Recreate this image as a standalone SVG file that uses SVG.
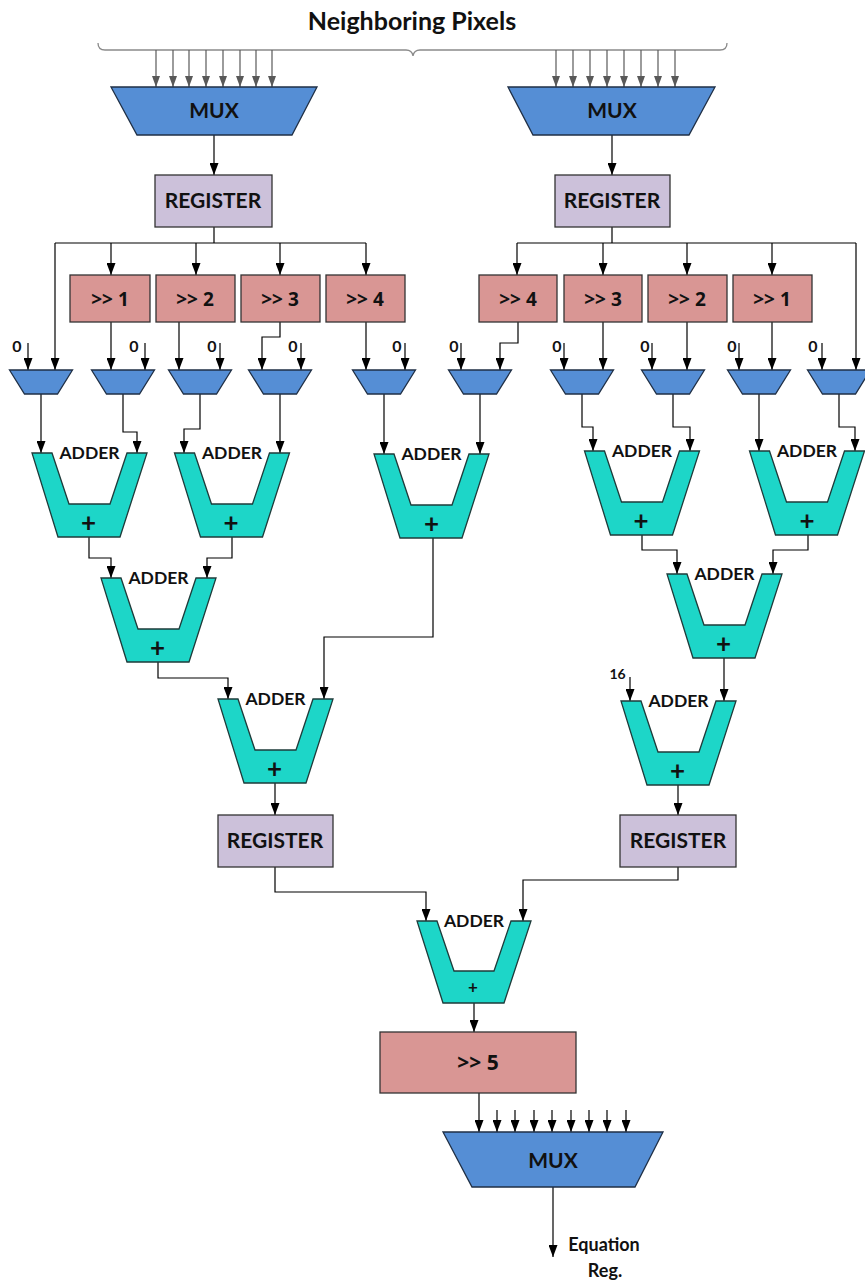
<svg xmlns="http://www.w3.org/2000/svg" width="865" height="1280" viewBox="0 0 865 1280">
<defs>
<marker id="ah" markerUnits="userSpaceOnUse" markerWidth="12" markerHeight="9" refX="12" refY="4.5" orient="auto"><path d="M0,0 L12,4.5 L0,9 z" fill="#000"/></marker>
<marker id="ahg" markerUnits="userSpaceOnUse" markerWidth="11" markerHeight="8" refX="11" refY="4" orient="auto"><path d="M0,0 L11,4 L0,8 z" fill="#595959"/></marker>
<style>
.mux{fill:#558ED5;stroke:#1f2f45;stroke-width:1.3}
.reg{fill:#CCC1DA;stroke:#333;stroke-width:1.3}
.sh{fill:#D99694;stroke:#333;stroke-width:1.3}
.add{fill:#1DD6C8;stroke:#1e3b3a;stroke-width:1.3}
.c{fill:none;stroke:#000;stroke-width:1.2;marker-end:url(#ah)}
.cn{fill:none;stroke:#000;stroke-width:1.2}
.cg{fill:none;stroke:#595959;stroke-width:1.2;marker-end:url(#ahg)}
text{font-family:Lato,"Liberation Sans",sans-serif;font-weight:bold;fill:#111;text-anchor:middle}
.t21{font-size:21px}
.t18{font-size:19px;font-family:"Open Sans","Liberation Sans",sans-serif}
.ta{font-size:17.5px}
.tp{font-size:26px}
.t0{font-size:16px}
</style>
</defs>

<g id="title">
<text x="412" y="30" style="font-size:25px">Neighboring Pixels</text>
<path d="M98,43 Q98,50 105,50 L406,50 Q412,50 413,56 Q414,50 420,50 L720,50 Q727,50 727,43" fill="none" stroke="#8a8a8a" stroke-width="1.3"/>
</g>

<g id="connectors">
<path class="cg" d="M156,50V87"/><path class="cg" d="M173,50V87"/><path class="cg" d="M189,50V87"/><path class="cg" d="M206,50V87"/><path class="cg" d="M223,50V87"/><path class="cg" d="M240,50V87"/><path class="cg" d="M256,50V87"/><path class="cg" d="M272,50V87"/>
<path class="cg" d="M556,50V87"/><path class="cg" d="M573,50V87"/><path class="cg" d="M590,50V87"/><path class="cg" d="M607,50V87"/><path class="cg" d="M624,50V87"/><path class="cg" d="M641,50V87"/><path class="cg" d="M658,50V87"/><path class="cg" d="M675,50V87"/>
<path class="c" d="M214,135V175"/>
<path class="c" d="M612,135V175"/>
<path class="cn" d="M214,227V243M55,243H366"/>
<path class="c" d="M55,243V370"/>
<path class="c" d="M111,243V275"/>
<path class="c" d="M196,243V275"/>
<path class="c" d="M280,243V275"/>
<path class="c" d="M366,243V275"/>
<path class="cn" d="M612,227V243M517,243H856"/>
<path class="c" d="M517,243V275"/>
<path class="c" d="M603,243V275"/>
<path class="c" d="M687,243V275"/>
<path class="c" d="M772,243V275"/>
<path class="c" d="M856,243V370"/>
<path class="c" d="M111,322V370"/>
<path class="c" d="M179,322V370"/>
<path class="c" d="M280,322V337H262V370"/>
<path class="c" d="M366,322V370"/>
<path class="c" d="M518,322V343H500V370"/>
<path class="c" d="M603,322V370"/>
<path class="c" d="M687,322V370"/>
<path class="c" d="M772,322V370"/>
<path class="c" d="M28,343V370"/>
<path class="c" d="M145,343V370"/>
<path class="c" d="M220,343V370"/>
<path class="c" d="M301,343V370"/>
<path class="c" d="M405,343V370"/>
<path class="c" d="M461,343V370"/>
<path class="c" d="M564,343V370"/>
<path class="c" d="M652,343V370"/>
<path class="c" d="M739,343V370"/>
<path class="c" d="M822,343V370"/>
<path class="c" d="M41,394V453"/>
<path class="c" d="M123,394V432H137V453"/>
<path class="c" d="M200,394V429H184V453"/>
<path class="c" d="M280,394V453"/>
<path class="c" d="M384,394V454"/>
<path class="c" d="M480,394V454"/>
<path class="c" d="M582,394V427H593V451"/>
<path class="c" d="M673,394V427H690V451"/>
<path class="c" d="M759,394V451"/>
<path class="c" d="M839,394V427H855V451"/>
<path class="c" d="M89,537V558H111V578"/>
<path class="c" d="M232,537V558H207V578"/>
<path class="c" d="M433,538V637H324V699"/>
<path class="c" d="M158,662V678H228V699"/>
<path class="c" d="M642,535V550H677V574"/>
<path class="c" d="M808,535V550H773V574"/>
<path class="c" d="M724,658V701"/>
<path class="c" d="M630,677V701"/>
<path class="c" d="M275,783V815"/>
<path class="c" d="M678,785V815"/>
<path class="c" d="M275,867V892H426V921"/>
<path class="c" d="M678,867V880H523V921"/>
<path class="c" d="M474,1003V1032"/>
<path class="c" d="M479,1093V1132"/>
<path class="c" d="M497,1110V1132"/><path class="c" d="M515,1110V1132"/><path class="c" d="M534,1110V1132"/><path class="c" d="M552,1110V1132"/><path class="c" d="M571,1110V1132"/><path class="c" d="M589,1110V1132"/><path class="c" d="M607,1110V1132"/><path class="c" d="M626,1110V1132"/>
<path class="c" d="M553,1187V1257"/>
</g>

<g id="mux_left"><polygon class="mux" points="111,87 317,87 292,135 137,135"/><text class="t21" x="214" y="118">MUX</text></g>
<g id="mux_right"><polygon class="mux" points="508,87 715,87 689,135 533,135"/><text class="t21" x="612" y="118">MUX</text></g>

<g id="reg_left"><rect class="reg" x="155" y="175" width="117" height="52"/><text class="t21" x="213" y="208">REGISTER</text></g>
<g id="reg_right"><rect class="reg" x="555" y="175" width="115" height="52"/><text class="t21" x="612" y="208">REGISTER</text></g>

<g id="shl1"><rect class="sh" x="70" y="275" width="80" height="47"/><text class="t18" x="110" y="306">&gt;&gt; 1</text></g>
<g id="shl2"><rect class="sh" x="156" y="275" width="79" height="47"/><text class="t18" x="195" y="306">&gt;&gt; 2</text></g>
<g id="shl3"><rect class="sh" x="241" y="275" width="79" height="47"/><text class="t18" x="280" y="306">&gt;&gt; 3</text></g>
<g id="shl4"><rect class="sh" x="326" y="275" width="79" height="47"/><text class="t18" x="365" y="306">&gt;&gt; 4</text></g>
<g id="shr4"><rect class="sh" x="479" y="275" width="78" height="47"/><text class="t18" x="518" y="306">&gt;&gt; 4</text></g>
<g id="shr3"><rect class="sh" x="564" y="275" width="78" height="47"/><text class="t18" x="603" y="306">&gt;&gt; 3</text></g>
<g id="shr2"><rect class="sh" x="648" y="275" width="79" height="47"/><text class="t18" x="687" y="306">&gt;&gt; 2</text></g>
<g id="shr1"><rect class="sh" x="733" y="275" width="79" height="47"/><text class="t18" x="772" y="306">&gt;&gt; 1</text></g>

<g id="zeros">
<text class="t0" x="17" y="352">0</text>
<text class="t0" x="134" y="352">0</text>
<text class="t0" x="212" y="352">0</text>
<text class="t0" x="293" y="352">0</text>
<text class="t0" x="397" y="352">0</text>
<text class="t0" x="454" y="352">0</text>
<text class="t0" x="557" y="352">0</text>
<text class="t0" x="645" y="352">0</text>
<text class="t0" x="732" y="352">0</text>
<text class="t0" x="813" y="352">0</text>
</g>

<g id="smux1"><polygon class="mux" points="9.5,370 72.5,370 57.5,394 24.5,394"/></g>
<g id="smux2"><polygon class="mux" points="91.5,370 154.5,370 139.5,394 106.5,394"/></g>
<g id="smux3"><polygon class="mux" points="168.5,370 231.5,370 216.5,394 183.5,394"/></g>
<g id="smux4"><polygon class="mux" points="248.5,370 311.5,370 296.5,394 263.5,394"/></g>
<g id="smux5"><polygon class="mux" points="352.5,370 415.5,370 400.5,394 367.5,394"/></g>
<g id="smux6"><polygon class="mux" points="448.5,370 511.5,370 496.5,394 463.5,394"/></g>
<g id="smux7"><polygon class="mux" points="550.5,370 613.5,370 598.5,394 565.5,394"/></g>
<g id="smux8"><polygon class="mux" points="641.5,370 704.5,370 689.5,394 656.5,394"/></g>
<g id="smux9"><polygon class="mux" points="727.5,370 790.5,370 775.5,394 742.5,394"/></g>
<g id="smux10"><polygon class="mux" points="807.5,370 870.5,370 855.5,394 822.5,394"/></g>

<g id="adder1" transform="translate(89.5,453)"><polygon class="add" points="-57.5,0 -37.5,0 -20.5,51 20.5,51 37.5,0 57.5,0 30.5,84 -31.5,84"/><text class="ta" x="0" y="6">ADDER</text><text class="tp" x="-1" y="79">+</text></g>
<g id="adder2" transform="translate(232,453)"><polygon class="add" points="-57.5,0 -37.5,0 -20.5,51 20.5,51 37.5,0 57.5,0 30.5,84 -31.5,84"/><text class="ta" x="0" y="6">ADDER</text><text class="tp" x="-1" y="79">+</text></g>
<g id="adder3" transform="translate(431.5,454)"><polygon class="add" points="-57.5,0 -37.5,0 -20.5,51 20.5,51 37.5,0 57.5,0 30.5,84 -31.5,84"/><text class="ta" x="0" y="6">ADDER</text><text class="tp" x="0" y="79">+</text></g>
<g id="adder4" transform="translate(642,451)"><polygon class="add" points="-57.5,0 -37.5,0 -20.5,51 20.5,51 37.5,0 57.5,0 30.5,84 -31.5,84"/><text class="ta" x="0" y="6">ADDER</text><text class="tp" x="-1" y="79">+</text></g>
<g id="adder5" transform="translate(807,451)"><polygon class="add" points="-57.5,0 -37.5,0 -20.5,51 20.5,51 37.5,0 57.5,0 30.5,84 -31.5,84"/><text class="ta" x="0" y="6">ADDER</text><text class="tp" x="0" y="79">+</text></g>
<g id="adder6" transform="translate(158.5,578)"><polygon class="add" points="-57.5,0 -37.5,0 -20.5,51 20.5,51 37.5,0 57.5,0 30.5,84 -31.5,84"/><text class="ta" x="0" y="6">ADDER</text><text class="tp" x="-1" y="79">+</text></g>
<g id="adder7" transform="translate(275.5,699)"><polygon class="add" points="-57.5,0 -37.5,0 -20.5,51 20.5,51 37.5,0 57.5,0 30.5,84 -31.5,84"/><text class="ta" x="0" y="6">ADDER</text><text class="tp" x="-1" y="79">+</text></g>
<g id="adder8" transform="translate(724.5,574)"><polygon class="add" points="-57.5,0 -37.5,0 -20.5,51 20.5,51 37.5,0 57.5,0 30.5,84 -31.5,84"/><text class="ta" x="0" y="6">ADDER</text><text class="tp" x="-1" y="79">+</text></g>
<g id="adder9" transform="translate(678.5,701)"><polygon class="add" points="-57.5,0 -37.5,0 -20.5,51 20.5,51 37.5,0 57.5,0 30.5,84 -31.5,84"/><text class="ta" x="0" y="6">ADDER</text><text class="tp" x="-1" y="79">+</text><text x="-61" y="-22" style="font-size:14px">16</text></g>
<g id="adder10" transform="translate(474,921)"><polygon class="add" points="-57,0 -37,0 -20,50 20,50 37,0 57,0 30,82 -31,82"/><text class="ta" x="0" y="6">ADDER</text><text x="-1" y="72" style="font-size:17px">+</text></g>

<g id="reg_bl"><rect class="reg" x="218" y="815" width="115" height="52"/><text class="t21" x="275" y="848">REGISTER</text></g>
<g id="reg_br"><rect class="reg" x="620" y="815" width="116" height="52"/><text class="t21" x="678" y="848">REGISTER</text></g>

<g id="sh5"><rect class="sh" x="380" y="1032" width="196" height="61"/><text class="t18" x="478" y="1070" style="font-size:21px">&gt;&gt; 5</text></g>
<g id="mux_out"><polygon class="mux" points="443,1132 663,1132 635,1187 472,1187"/><text class="t21" x="553" y="1168">MUX</text></g>
<g id="out_label"><text x="604" y="1251" style="font-size:18px">Equation</text><text x="605" y="1277" style="font-size:18px">Reg.</text></g>
</svg>
